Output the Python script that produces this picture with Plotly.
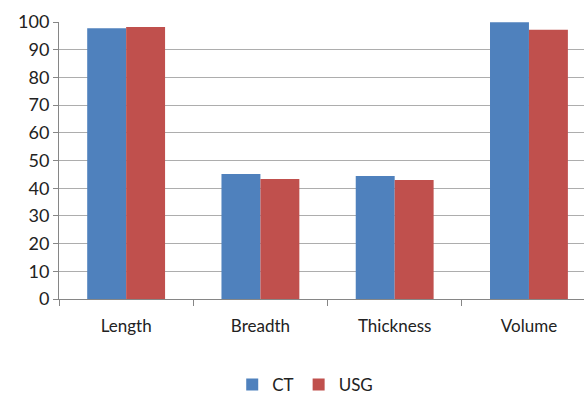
import plotly.graph_objects as go

categories = ["Length", "Breadth", "Thickness", "Volume"]
ct_values = [97.7, 45.1, 44.4, 99.9]
usg_values = [98.2, 43.3, 43.0, 97.2]
y_ticks = [0, 10, 20, 30, 40, 50, 60, 70, 80, 90, 100]

fig = go.Figure()
fig.add_trace(go.Bar(name="CT", x=categories, y=ct_values, marker=dict(color="#4F81BD", line=dict(width=0))))
fig.add_trace(go.Bar(name="USG", x=categories, y=usg_values, marker=dict(color="#C0504D", line=dict(width=0))))

fig.update_layout(
    width=584, height=396,
    margin=dict(l=59, r=0, t=22, b=97, autoexpand=False),
    paper_bgcolor="white", plot_bgcolor="white",
    barmode="group", bargap=0.42, bargroupgap=0,
    font=dict(family="Lato, Open Sans, sans-serif", size=17, color="#222222"),
    showlegend=True,
    legend=dict(orientation="h", x=0.469, xanchor="center", y=-0.31, yanchor="middle",
                font=dict(size=17), itemwidth=30, traceorder="normal"),
    xaxis=dict(range=[-0.5, 3.41], showline=True, linecolor="#868686", linewidth=1,
               ticks="outside", tickson="boundaries", ticklen=6, tickcolor="#868686",
               showgrid=False, tickfont=dict(size=17), automargin=False,
               ticklabelstandoff=12),
    yaxis=dict(range=[0, 100], tickvals=y_ticks, showline=True, linecolor="#868686", linewidth=1,
               ticks="outside", ticklen=5, tickcolor="#868686",
               showgrid=True, gridcolor="#ADADAD", gridwidth=1, zeroline=False,
               tickfont=dict(size=18), automargin=False),
)

fig.write_html("out.html", config={"displayModeBar": False},
               post_script="document.body.style.margin='0px';document.body.style.overflow='hidden';")
